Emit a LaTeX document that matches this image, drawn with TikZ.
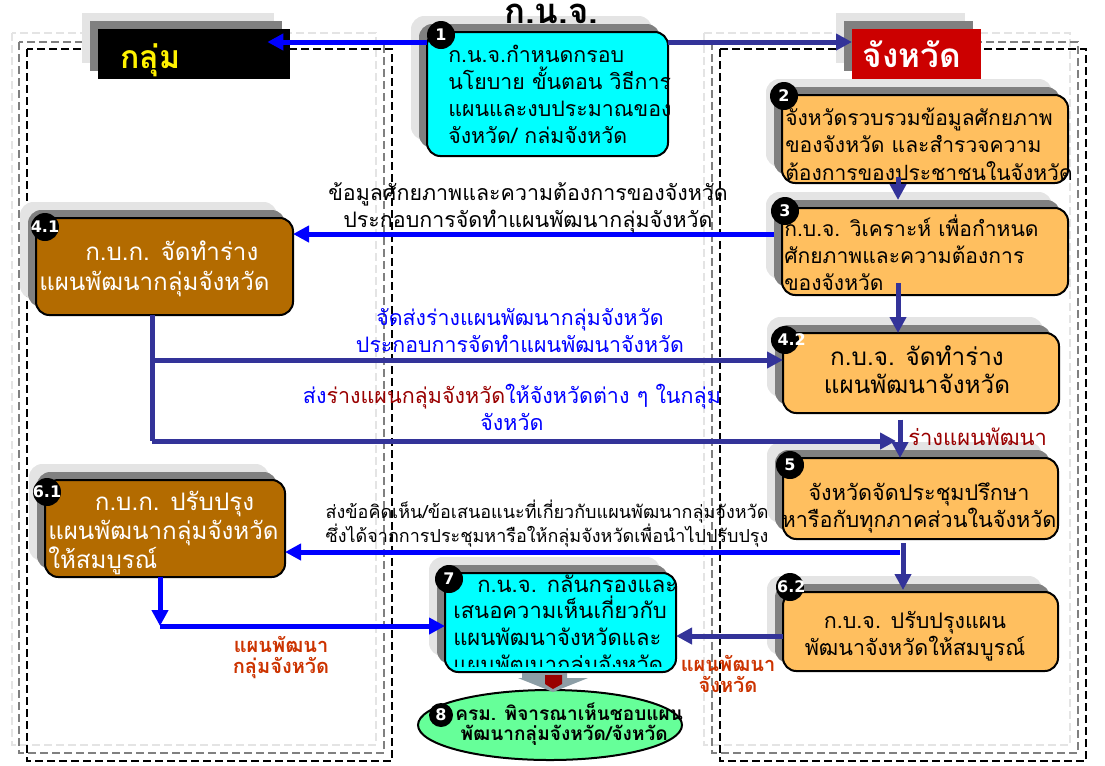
\documentclass[tikz,border=0pt]{standalone}
\usepackage{fontspec}
\newfontfamily\thaifont[Script=Thai]{Loma}
\newfontfamily\digitfont{DejaVu Sans}
\usetikzlibrary{shadows,arrows.meta,shapes.geometric}
\definecolor{cyanbox}{RGB}{0,255,255}
\definecolor{orangebox}{RGB}{255,191,95}
\definecolor{brownbox}{RGB}{179,107,0}
\definecolor{shadowlight}{RGB}{228,228,228}
\definecolor{shadowmid}{RGB}{128,128,128}
\definecolor{pureblue}{RGB}{0,0,255}
\definecolor{navy}{RGB}{51,51,153}
\definecolor{darkred}{RGB}{153,0,0}
\definecolor{orangered}{RGB}{204,51,0}
\definecolor{greenell}{RGB}{102,255,153}
\definecolor{headred}{RGB}{204,0,0}
\definecolor{steel}{RGB}{140,158,166}
\newcommand\pxu[1]{#1*0.75pt}
\newcommand\thfs[2]{\thaifont\fontsize{#1}{#2}\selectfont}
\begin{document}
\begin{tikzpicture}[x=0.75pt,y=-0.75pt,
  frameA/.style={draw=shadowlight, line width=1.5pt, dash pattern=on 6pt off 3pt},
  frameB/.style={draw=shadowmid, line width=1.5pt, dash pattern=on 6pt off 3pt},
  frameC/.style={draw=black, line width=1.5pt, dash pattern=on 6pt off 3pt},
  twoshadow/.style={
     copy shadow={shadow xshift=-12pt, shadow yshift=12pt, fill=shadowlight, draw=none},
     copy shadow={shadow xshift=-6pt, shadow yshift=6pt, fill=shadowmid, draw=none}},
  stepbox/.style={draw=black, line width=1.5pt, rounded corners=10pt, anchor=north west,
     inner sep=0pt, outer sep=0pt, twoshadow},
  headbox/.style={anchor=north west, inner sep=0pt, outer sep=0pt,
     minimum width=\pxu{192}, minimum height=\pxu{50}, twoshadow},
  badge/.style={circle, fill=black, minimum size=\pxu{28}, inner sep=0pt, text=white,
     font=\digitfont\bfseries\fontsize{12}{12}\selectfont},
  boxtext/.style={inner sep=0pt},
  redlabel/.style={font=\thaifont\bfseries\fontsize{15}{15.75}\selectfont, inner sep=0pt, text=orangered, align=center, anchor=base},
  bluearrow/.style={draw=pureblue, line width=3.75pt, -{Triangle[length=12pt,width=12pt]}},
  navyarrow/.style={draw=navy, line width=3.75pt, -{Triangle[length=12pt,width=12pt]}},
  navyline/.style={draw=navy, line width=3.75pt},
]
\useasboundingbox (0,0) rectangle (1105,765);
% lane frames
\draw[frameA] (12,33) rectangle (376,745);
\draw[frameB] (19,42) rectangle (384,753);
\draw[frameC] (27,49) rectangle (392,761);
\draw[frameA] (704,33) rectangle (1070,745);
\draw[frameB] (712,42) rectangle (1078,753);
\draw[frameC] (720,49) rectangle (1086,761);
% headers
\node[headbox, fill=black] (hg) at (98,29) {};
\node[font=\thaifont\bfseries\fontsize{24}{24}\selectfont, text=yellow, anchor=base west, inner sep=0pt] (hgt) at (120,68) {กลุ่ม};
\node[headbox, fill=headred, minimum width=\pxu{129}] (hp) at (852,29) {};
\node[font=\thaifont\bfseries\fontsize{25}{25}\selectfont, text=white, anchor=base, inner sep=0pt] (hpt) at (912,67) {จังหวัด};
% step boxes
\node[stepbox, fill=cyanbox, minimum width=\pxu{241}, minimum height=\pxu{124}] (b1) at (427,32) {};
\node[stepbox, fill=orangebox, minimum width=\pxu{286}, minimum height=\pxu{88}] (b2) at (782,95) {};
\node[stepbox, fill=orangebox, minimum width=\pxu{286}, minimum height=\pxu{87}] (b3) at (782,208) {};
\node[stepbox, fill=orangebox, minimum width=\pxu{276}, minimum height=\pxu{80}] (b42) at (783,333) {};
\node[stepbox, fill=orangebox, minimum width=\pxu{275}, minimum height=\pxu{81}] (b5) at (783,458) {};
\node[stepbox, fill=orangebox, minimum width=\pxu{275}, minimum height=\pxu{79}] (b62) at (783,592) {};
\node[stepbox, fill=brownbox, minimum width=\pxu{257}, minimum height=\pxu{97}] (b41) at (36,218) {};
\node[stepbox, fill=brownbox, minimum width=\pxu{240}, minimum height=\pxu{97}] (b61) at (45,480) {};
\node[stepbox, fill=cyanbox, minimum width=\pxu{231}, minimum height=\pxu{99}] (b7) at (445,573) {};
\node[ellipse, draw=black, line width=1.5pt, fill=greenell, minimum width=\pxu{264}, minimum height=\pxu{70}, inner sep=0pt] (b8) at (550,725) {};
% title above box 1 (on top of its shadow)
\node[font=\thaifont\bfseries\fontsize{26}{26}\selectfont, anchor=base, inner sep=0pt] (title) at (551,23) {ก.น.จ.};
% box texts (anchored at the baseline of their last line)
\node[boxtext, font=\thfs{16}{20.25}, align=left, anchor=base west] (t1) at (448,143) {ก.น.จ.กำหนดกรอบ\\นโยบาย ขั้นตอน วิธีการ\\แผนและงบประมาณของ\\จังหวัด/ กล่มจังหวัด};
\node[boxtext, font=\thfs{15.8}{20.6}, align=left, anchor=base west] (t2) at (785,180) {จังหวัดรวบรวมข้อมูลศักยภาพ\\ของจังหวัด และสำรวจความ\\ต้องการของประชาชนในจังหวัด};
\node[boxtext, font=\thfs{15.8}{20}, align=left, anchor=base west] (t3) at (784,290) {ก.บ.จ. วิเคราะห์ เพื่อกำหนด\\ศักยภาพและความต้องการ\\ของจังหวัด};
\node[boxtext, font=\thfs{18.2}{21}, align=center, anchor=base] (t42) at (917,393) {ก.บ.จ. จัดทำร่าง\\แผนพัฒนาจังหวัด};
\node[boxtext, font=\thfs{16.2}{20.25}, align=center, anchor=base] (t5) at (919,527) {จังหวัดจัดประชุมปรึกษา\\หารือกับทุกภาคส่วนในจังหวัด};
\node[boxtext, font=\thfs{16.1}{20.25}, align=center, anchor=base] (t62) at (915,655) {ก.บ.จ. ปรับปรุงแผน\\พัฒนาจังหวัดให้สมบูรณ์};
\node[boxtext, text=white, align=left, anchor=base west, font=\thfs{18.1}{22.5}] (t41) at (39,290) {\hspace*{34.5pt}ก.บ.ก. จัดทำร่าง\\แผนพัฒนากลุ่มจังหวัด};
\node[boxtext, text=white, align=left, anchor=base west, font=\thfs{18.1}{21.75}] (t61) at (48,568) {\hspace*{35pt}ก.บ.ก. ปรับปรุง\\แผนพัฒนากลุ่มจังหวัด\\ให้สมบูรณ์};
\begin{scope}
\clip (b7.north west) rectangle (676,666);
\node[boxtext, font=\thfs{16.5}{20}, align=left, anchor=base west] (t7) at (453,672) {\hspace*{18pt}ก.น.จ. กลั่นกรองและ\\เสนอความเห็นเกี่ยวกับ\\แผนพัฒนาจังหวัดและ\\แผนพัฒนากลุ่มจังหวัด};
\end{scope}
\node[font=\thaifont\bfseries\fontsize{14.3}{15}\selectfont, align=left, anchor=base west, inner sep=0pt] (t8) at (455,740) {ครม. พิจารณาเห็นชอบแผน\\\hspace*{4pt}พัฒนากลุ่มจังหวัด/จังหวัด};
% badges
\node[badge] (n1) at (441,35) {\makebox[0pt]{1}};
\node[badge] (n2) at (784,96) {\makebox[0pt]{2}};
\node[badge] (n3) at (785,211) {\makebox[0pt]{3}};
\node[badge] (n41) at (45,227) {\makebox[0pt]{\raisebox{-2pt}{4.1}}};
\node[badge] (n42) at (785,340) {\makebox[0pt]{\hspace*{10pt}\raisebox{-4pt}{4.2}}};
\node[badge] (n5) at (790,465) {\makebox[0pt]{\raisebox{-3pt}{5}}};
\node[badge] (n61) at (47,492) {\makebox[0pt]{\raisebox{-3pt}{6.1}}};
\node[badge] (n62) at (790,587) {\makebox[0pt]{\hspace*{2pt}\raisebox{-7pt}{6.2}}};
\node[badge] (n7) at (449,579) {\makebox[0pt]{7}};
\node[badge, minimum size=\pxu{24}] (n8) at (441,715) {\makebox[0pt]{8}};
% connectors
\coordinate (j1) at (152,360);
\coordinate (j2) at (152,441);
\coordinate (r5) at (896,441);
\coordinate (j5) at (900,552);
\coordinate (j6) at (160,626);
\draw[bluearrow, shorten >=-17pt] (b1.west |- 0,42) -- (hg.east |- 0,42);
\draw[navyarrow] (b1.east |- 0,42) -- (hp.west |- 0,42);
\draw[navyarrow, shorten <=-4.5pt, shorten >=6pt] (b2.south -| 898,0) -- (b3.north -| 898,0);
\draw[bluearrow, shorten <=6pt] (b3.west |- 0,234) -- (b41.east |- 0,234);
\draw[navyarrow, shorten <=-9pt] (b3.south -| 898,0) -- (b42.north -| 898,0);
\draw[navyline] (b41.south -| j1) -- (j2);
\draw[navyarrow] (j1) -- (b42.west |- j1);
\draw[navyarrow] (j2) -- (r5);
\draw[navyarrow, shorten <=5pt] (b42.south -| 900,0) -- (b5.north -| 900,0);
\draw[bluearrow] (j5) -- (b61.east |- j5);
\draw[navyarrow, shorten <=3pt, shorten >=1.5pt] (b5.south -| 903,0) -- (b62.north -| 903,0);
\draw[navyarrow] (b62.west |- 0,636) -- (b7.east |- 0,636);
\draw[bluearrow] (b61.south -| j6) -- (j6);
\draw[bluearrow] (j6) -- (b7.west |- j6);
% block arrow 7 -> 8
\fill[steel] (522,673) -- (567,673) -- (567,678) -- (588,678) -- (553,692) -- (518,678) -- (522,678) -- cycle;
\fill[darkred] (545,675) -- (562,675) -- (562,684) -- (553,689) -- (545,684) -- cycle;
% labels
\node[boxtext, font=\thfs{16.05}{20.25}, align=center, anchor=base] (l1) at (528,227) {ข้อมูลศักยภาพและความต้องการของจังหวัด\\ประกอบการจัดทำแผนพัฒนากลุ่มจังหวัด};
\node[boxtext, font=\thfs{16}{20.25}, align=center, anchor=base, text=pureblue] (l2) at (520,352) {จัดส่งร่างแผนพัฒนากลุ่มจังหวัด\\ประกอบการจัดทำแผนพัฒนาจังหวัด};
\node[boxtext, font=\thfs{16.1}{20.25}, align=center, anchor=base, text=pureblue] (l3) at (512,430) {ส่ง\textcolor{darkred}{ร่างแผนกลุ่มจังหวัด}ให้จังหวัดต่าง ๆ ในกลุ่ม\\จังหวัด};
\node[boxtext, font=\thfs{16.5}{20}, anchor=base west, text=darkred] (l4) at (908,445) {ร่างแผนพัฒนา};
\node[boxtext, font=\thfs{13.5}{18}, align=center, anchor=base] (l5) at (547,542) {ส่งข้อคิดเห็น/ข้อเสนอแนะที่เกี่ยวกับแผนพัฒนากลุ่มจังหวัด\\ซึ่งได้จากการประชุมหารือให้กลุ่มจังหวัดเพื่อนำไปปรับปรุง};
\node[redlabel] (l6) at (281,673) {แผนพัฒนา\\กลุ่มจังหวัด};
\node[redlabel] (l7) at (728,692) {แผนพัฒนา\\จังหวัด};
\end{tikzpicture}
\end{document}
